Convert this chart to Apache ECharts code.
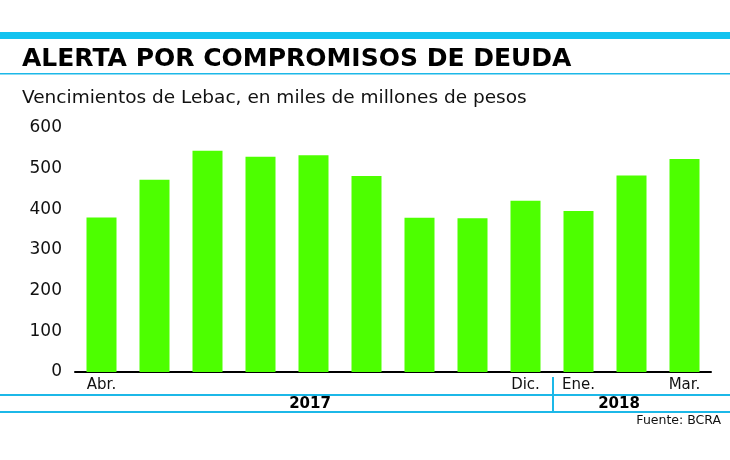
<!DOCTYPE html>
<html>
<head>
<meta charset="utf-8">
<script src="https://cdn.jsdelivr.net/npm/echarts@6/dist/echarts.min.js"></script>
<style>
  html, body { margin: 0; padding: 0; background: #fff; }
  #chart { width: 730px; height: 460px; }
</style>
</head>
<body>
<div id="chart"></div>
<script>
// meses (solo algunos llevan etiqueta)
var months = ['Abr.', '', '', '', '', '', '', '', 'Dic.', 'Ene.', '', 'Mar.'];
// vencimientos, miles de millones de pesos
var vencimientos = [380, 473, 544, 529, 533, 482, 379, 378, 421, 396, 483, 524];
var yTicks = [0, 100, 200, 300, 400, 500, 600];
var years = ['2017', '2018'];

var cyan = '#1cb8e8';
var green = '#4dff00';

var chart = echarts.init(document.getElementById('chart'));

var option = {
    animation: false,
    backgroundColor: '#fff',
    grid: { left: 75, right: 19, top: 128, bottom: 88 },
    xAxis: {
        type: 'category',
        data: months,
        axisLine: { lineStyle: { color: '#000', width: 2 } },
        axisTick: { show: false },
        axisLabel: {
            interval: 0,
            color: '#111',
            fontFamily: 'DejaVu Sans',
            fontSize: 15,
            margin: 6
        }
    },
    yAxis: {
        type: 'value',
        min: yTicks[0],
        max: yTicks[yTicks.length - 1],
        interval: 100,
        axisLine: { show: false },
        axisTick: { show: false },
        splitLine: { show: false },
        axisLabel: {
            color: '#111',
            fontFamily: 'DejaVu Sans',
            fontSize: 17,
            margin: 13
        }
    },
    series: [{
        type: 'bar',
        data: vencimientos,
        barWidth: 30,
        itemStyle: { color: green }
    }],
    graphic: [
        // franja superior
        { type: 'rect', shape: { x: 0, y: 32, width: 730, height: 7 }, style: { fill: '#12c3f0' } },
        { type: 'text', left: 22, top: 47, style: {
            text: 'ALERTA POR COMPROMISOS DE DEUDA',
            font: 'bold 25px "DejaVu Sans"', fill: '#000' } },
        { type: 'rect', shape: { x: 0, y: 73, width: 730, height: 1.5 }, style: { fill: cyan } },
        { type: 'text', left: 22, top: 89, style: {
            text: 'Vencimientos de Lebac, en miles de millones de pesos',
            font: '18.5px "DejaVu Sans"', fill: '#111' } },
        // años
        { type: 'rect', shape: { x: 0, y: 394, width: 730, height: 2 }, style: { fill: cyan } },
        { type: 'rect', shape: { x: 0, y: 411, width: 730, height: 2 }, style: { fill: cyan } },
        { type: 'rect', shape: { x: 552, y: 377, width: 2, height: 34 }, style: { fill: cyan } },
        { type: 'text', x: 310, y: 404, style: {
            text: years[0], font: 'bold 15px "DejaVu Sans"', fill: '#000',
            align: 'center', verticalAlign: 'middle' } },
        { type: 'text', x: 619, y: 404, style: {
            text: years[1], font: 'bold 15px "DejaVu Sans"', fill: '#000',
            align: 'center', verticalAlign: 'middle' } },
        { type: 'text', x: 721, y: 421, style: {
            text: 'Fuente: BCRA', font: '12.5px "DejaVu Sans"', fill: '#111',
            align: 'right', verticalAlign: 'middle' } }
    ]
};

chart.setOption(option);
</script>
</body>
</html>
